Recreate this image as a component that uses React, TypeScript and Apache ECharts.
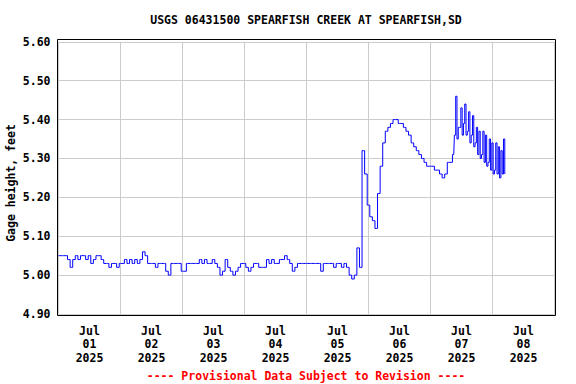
import React, { useEffect, useRef } from "react";
import * as echarts from "echarts";

// Gage height (feet), hourly readings starting Jul 01 2025 00:00
const jul01 = [5.05, 5.05, 5.05, 5.05, 5.04, 5.02, 5.04, 5.05, 5.04, 5.05, 5.05, 5.04, 5.05, 5.03, 5.04, 5.05, 5.05, 5.04, 5.03, 5.03, 5.02, 5.03, 5.03, 5.02];
const jul02 = [5.03, 5.03, 5.04, 5.03, 5.04, 5.03, 5.04, 5.03, 5.04, 5.06, 5.05, 5.03, 5.03, 5.03, 5.02, 5.03, 5.03, 5.03, 5.01, 5.0, 5.03, 5.03, 5.03, 5.03];
const jul03 = [5.01, 5.01, 5.03, 5.03, 5.03, 5.03, 5.03, 5.04, 5.03, 5.04, 5.03, 5.03, 5.04, 5.03, 5.02, 5.0, 5.01, 5.04, 5.02, 5.01, 5.0, 5.01, 5.02, 5.03];
const jul04 = [5.03, 5.02, 5.01, 5.02, 5.03, 5.03, 5.02, 5.02, 5.02, 5.04, 5.03, 5.04, 5.03, 5.03, 5.04, 5.04, 5.05, 5.04, 5.03, 5.01, 5.02, 5.03, 5.03, 5.03];
const jul05 = [5.03, 5.03, 5.03, 5.03, 5.03, 5.03, 5.01, 5.03, 5.03, 5.03, 5.03, 5.02, 5.03, 5.03, 5.02, 5.03, 5.02, 5.0, 4.99, 5.0, 5.07, 5.02, 5.32, 5.26];
const jul06 = [5.18, 5.15, 5.14, 5.12, 5.21, 5.28, 5.34, 5.37, 5.38, 5.39, 5.4, 5.4, 5.39, 5.39, 5.38, 5.37, 5.36, 5.34, 5.33, 5.32, 5.31, 5.3, 5.29, 5.28];
const jul07Morning = [5.28, 5.28, 5.27, 5.27, 5.26, 5.25, 5.26, 5.29, 5.29];
// Half-hourly readings from Jul 07 09:00 to Jul 08 05:00
const burstStartHour = 153;
const burstStepHours = 0.5;
const jul07Burst = [
  5.31, 5.36, 5.46, 5.35, 5.38, 5.38, 5.43, 5.36, 5.39, 5.44,
  5.36, 5.37, 5.42, 5.34, 5.36, 5.41, 5.33, 5.34, 5.38, 5.31,
  5.37, 5.3, 5.31, 5.37, 5.29, 5.36, 5.28, 5.29, 5.35, 5.27,
  5.34, 5.26, 5.27, 5.34, 5.26, 5.33, 5.25, 5.32, 5.26, 5.35, 5.26,
];

const dayLabels = ["Jul\n01\n2025", "Jul\n02\n2025", "Jul\n03\n2025", "Jul\n04\n2025", "Jul\n05\n2025", "Jul\n06\n2025", "Jul\n07\n2025", "Jul\n08\n2025"];
const yTicks = { min: 4.9, max: 5.6, step: 0.1 };

const FONT = '"DejaVu Sans Mono", "Liberation Mono", monospace';

export default function App() {
  const ref = useRef<HTMLDivElement>(null);

  useEffect(() => {
    if (!ref.current) return;
    const chart = echarts.init(ref.current, null, { renderer: "svg" });
    const hourly = [...jul01, ...jul02, ...jul03, ...jul04, ...jul05, ...jul06, ...jul07Morning];
    const data: [number, number][] = hourly.map((v, i) => [i, v]);
    jul07Burst.forEach((v, k) => data.push([burstStartHour + k * burstStepHours, v]));

    const txt = { fontFamily: FONT, fontWeight: "bold" as const, fontSize: 11.5, color: "#000" };

    chart.setOption({
      animation: false,
      backgroundColor: "#ffffff",
      grid: { left: 58.5, right: 21.5, top: 41.8, bottom: 70, containLabel: false },
      xAxis: [
        {
          type: "value",
          min: 0,
          max: dayLabels.length * 24,
          interval: 24,
          axisLabel: { show: false },
          axisLine: { show: false },
          axisTick: { show: false },
          splitLine: { show: true, lineStyle: { color: "#cccccc", width: 1 } },
        },
        {
          type: "category",
          data: dayLabels,
          boundaryGap: true,
          position: "bottom",
          axisLine: { show: false },
          axisTick: { show: false },
          splitLine: { show: false },
          axisLabel: { interval: 0, margin: 10, lineHeight: 13.5, ...txt },
        },
      ],
      yAxis: {
        type: "value",
        min: yTicks.min,
        max: yTicks.max,
        interval: yTicks.step,
        axisLine: { show: false },
        axisTick: { show: false },
        splitLine: { show: true, lineStyle: { color: "#cccccc", width: 1 } },
        axisLabel: { margin: 8, formatter: (v: number) => v.toFixed(2), ...txt },
      },
      series: [
        {
          type: "line",
          xAxisIndex: 0,
          data,
          step: "middle",
          symbol: "none",
          showSymbol: false,
          silent: true,
          lineStyle: { color: "#0000ff", width: 1 },
        },
      ],
      graphic: [
        {
          type: "rect",
          z: 100,
          silent: true,
          shape: { x: 57.5, y: 39.5, width: 498, height: 276 },
          style: { fill: "none", stroke: "#000", lineWidth: 1 },
        },
        {
          type: "text",
          x: 306,
          y: 20,
          style: { text: "USGS 06431500 SPEARFISH CREEK AT SPEARFISH,SD", align: "center", verticalAlign: "middle", fontFamily: FONT, fontWeight: "bold", fontSize: 11.5, fill: "#000" },
        },
        {
          type: "text",
          x: 11,
          y: 183,
          rotation: Math.PI / 2,
          style: { text: "Gage height, feet", align: "center", verticalAlign: "middle", fontFamily: FONT, fontWeight: "bold", fontSize: 11.5, fill: "#000" },
        },
        {
          type: "text",
          x: 306,
          y: 376,
          style: { text: "---- Provisional Data Subject to Revision ----", align: "center", verticalAlign: "middle", fontFamily: FONT, fontWeight: "bold", fontSize: 11.5, fill: "#ff0000" },
        },
      ],
    });
    return () => chart.dispose();
  }, []);

  return <div ref={ref} style={{ position: "absolute", left: 0, top: 0, width: 576, height: 384, background: "#fff" }} />;
}
